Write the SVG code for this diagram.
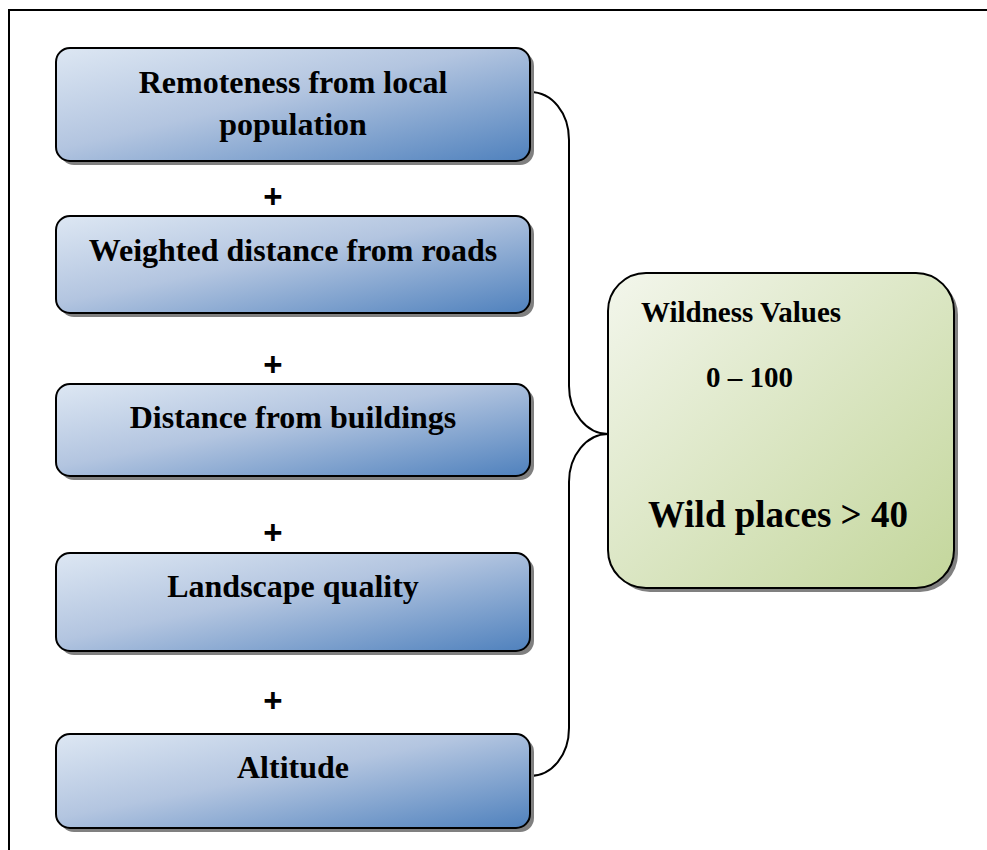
<svg xmlns="http://www.w3.org/2000/svg" width="987" height="850" viewBox="0 0 987 850">
  <defs>
    <linearGradient id="blueFill" x1="0" y1="0" x2="1" y2="1">
      <stop offset="0" stop-color="#dde7f3"/>
      <stop offset="0.45" stop-color="#b3c5e0"/>
      <stop offset="1" stop-color="#4f81bd"/>
    </linearGradient>
    <linearGradient id="greenFill" x1="0" y1="0" x2="1" y2="1">
      <stop offset="0" stop-color="#f3f6ec"/>
      <stop offset="1" stop-color="#c3d69b"/>
    </linearGradient>
  </defs>
  <style>
    .shadow { fill: #808080; }
    .step { fill: url(#blueFill); stroke: #000; stroke-width: 2; }
    .result { fill: url(#greenFill); stroke: #000; stroke-width: 2; }
    .label { font-family: "Liberation Serif", "Times New Roman", serif; font-weight: bold; font-size: 32px; fill: #000; text-anchor: middle; }
    .plus { font-family: "Liberation Sans", Arial, sans-serif; font-weight: bold; font-size: 33px; fill: #000; text-anchor: middle; }
    .rtext { font-family: "Liberation Serif", "Times New Roman", serif; font-weight: bold; fill: #000; }
    .link { fill: none; stroke: #000; stroke-width: 2; }
    .frame { fill: none; stroke: #000; stroke-width: 2; }
  </style>

  <!-- page frame -->
  <path class="frame" d="M9,850 V10 H987"/>

  <!-- connectors -->
  <g id="connectors">
    <path class="link" d="M530,92 C552,92 569,113 569,140 V386 C569,413 587,434 608,434"/>
    <path class="link" d="M530,776 C552,776 569,755 569,728 V482 C569,455 587,434 608,434"/>
  </g>

  <g id="remoteness">
    <rect class="shadow" x="60" y="52" width="474" height="113" rx="14"/>
    <rect class="step" x="56" y="48" width="474" height="113" rx="14"/>
    <text class="label" x="293" y="93">Remoteness from local</text>
    <text class="label" x="293" y="135">population</text>
  </g>

  <text class="plus" x="273" y="208">+</text>

  <g id="roads">
    <rect class="shadow" x="60" y="220" width="474" height="97" rx="14"/>
    <rect class="step" x="56" y="216" width="474" height="97" rx="14"/>
    <text class="label" x="293" y="261">Weighted distance from roads</text>
  </g>

  <text class="plus" x="273" y="376">+</text>

  <g id="buildings">
    <rect class="shadow" x="60" y="388" width="474" height="92" rx="14"/>
    <rect class="step" x="56" y="384" width="474" height="92" rx="14"/>
    <text class="label" x="293" y="428">Distance from buildings</text>
  </g>

  <text class="plus" x="273" y="544">+</text>

  <g id="landscape">
    <rect class="shadow" x="60" y="557" width="474" height="98" rx="14"/>
    <rect class="step" x="56" y="553" width="474" height="98" rx="14"/>
    <text class="label" x="293" y="597">Landscape quality</text>
  </g>

  <text class="plus" x="273" y="712">+</text>

  <g id="altitude">
    <rect class="shadow" x="60" y="738" width="474" height="94" rx="14"/>
    <rect class="step" x="56" y="734" width="474" height="94" rx="14"/>
    <text class="label" x="293" y="778">Altitude</text>
  </g>

  <g id="wildness">
    <rect class="shadow" x="612" y="277" width="346" height="315" rx="38"/>
    <rect class="result" x="608" y="273" width="346" height="315" rx="38"/>
    <text class="rtext" x="641" y="322" font-size="29">Wildness Values</text>
    <text class="rtext" x="706" y="387" font-size="29">0 – 100</text>
    <text class="rtext" x="648" y="527" font-size="37">Wild places &gt; 40</text>
  </g>
</svg>
